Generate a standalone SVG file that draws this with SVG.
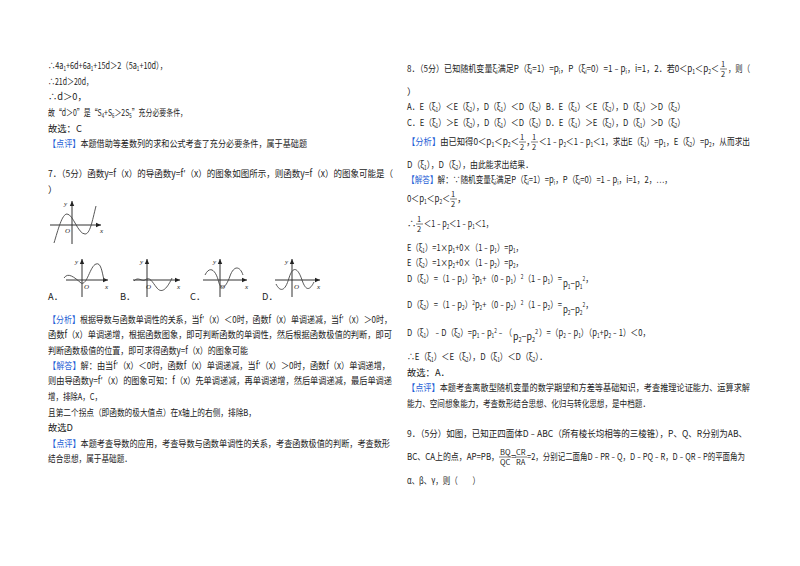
<svg xmlns="http://www.w3.org/2000/svg" width="800" height="566" viewBox="0 0 800 566">
<style>
text{font-family:"Noto Sans CJK SC","Noto Sans",sans-serif;font-size:9.3px;fill:#222}
.b{fill:#1f5fd6}
.s{font-size:5.8px}
.f{font-size:7.5px}
.fl{stroke:#222;stroke-width:0.6}
.ax{stroke:#333;stroke-width:1;fill:none}
.cv{stroke:#444;stroke-width:0.9;fill:none}
.lb{font-family:"Liberation Serif",serif;font-style:italic;font-size:7px}
</style>
<defs><marker id="ar" markerWidth="6" markerHeight="6" refX="5" refY="3" orient="auto"><path d="M0,0.8L5,3L0,5.2z" fill="#222"/></marker></defs>
<rect width="800" height="566" fill="#fff"/>
<g id="left">
<text x="48" y="69" textLength="119" lengthAdjust="spacingAndGlyphs">∴4a<tspan class="s" dy="1.5">1</tspan><tspan dy="-1.5">+6d+6a</tspan><tspan class="s" dy="1.5">1</tspan><tspan dy="-1.5">+15d＞2（5a</tspan><tspan class="s" dy="1.5">1</tspan><tspan dy="-1.5">+10d），</tspan></text>
<text x="48" y="85" textLength="45" lengthAdjust="spacingAndGlyphs">∴21d＞20d，</text>
<text x="48" y="100">∴d＞0，</text>
<text x="48" y="116" textLength="139" lengthAdjust="spacingAndGlyphs">故“d＞0”是“S<tspan class="s" dy="1.5">4</tspan><tspan dy="-1.5">+S</tspan><tspan class="s" dy="1.5">6</tspan><tspan dy="-1.5">＞2S</tspan><tspan class="s" dy="1.5">5</tspan><tspan dy="-1.5">”充分必要条件，</tspan></text>
<text x="48" y="132">故选：C</text>
<text x="48" y="147" textLength="259" lengthAdjust="spacingAndGlyphs"><tspan class="b">【点评】</tspan>本题借助等差数列的求和公式考查了充分必要条件，属于基础题</text>
<text x="48" y="177" textLength="345" lengthAdjust="spacingAndGlyphs">7．（5分）函数y=f（x）的导函数y=f′（x）的图象如图所示，则函数y=f（x）的图象可能是（</text>
<text x="48" y="193">）</text>
</g>
<g id="graphs">
<path class="ax" d="M50,225H101" marker-end="url(#ar)"/><path class="ax" d="M72,244V201" marker-end="url(#ar)"/>
<text class="lb" x="64" y="206">y</text><text class="lb" x="100" y="233">x</text><text class="lb" x="65" y="233">O</text>
<path class="cv" d="M54,243C58,230 62,214 67,214C73,214 78,234 85,234C90,234 92,222 96,206"/>
<g id="A"><path class="ax" d="M66,280H108" marker-end="url(#ar)"/><path class="ax" d="M82,297V259" marker-end="url(#ar)"/>
<text class="lb" x="75" y="264">y</text><text class="lb" x="105" y="289">x</text><text class="lb" x="84" y="289">O</text>
<path class="cv" d="M64,278C68,272 74,277 81,283C87,286 90,266 96,264C101,262 102,272 104,280"/>
<text x="48" y="300">A．</text></g>
<g id="B"><path class="ax" d="M133,280H180" marker-end="url(#ar)"/><path class="ax" d="M147,297V259" marker-end="url(#ar)"/>
<text class="lb" x="140" y="264">y</text><text class="lb" x="177" y="289">x</text><text class="lb" x="146" y="289">O</text>
<path class="cv" d="M134,281C138,276 142,282 145,280C150,276 152,282 157,288C161,293 166,291 172,278"/>
<text x="120" y="300">B．</text></g>
<g id="C"><path class="ax" d="M203,280H247" marker-end="url(#ar)"/><path class="ax" d="M220,297V259" marker-end="url(#ar)"/>
<text class="lb" x="213" y="264">y</text><text class="lb" x="245" y="289">x</text><text class="lb" x="220" y="289">O</text>
<path class="cv" d="M205,275C210,265 216,270 219,283C222,292 227,285 230,276C234,265 240,266 243,275"/>
<text x="190" y="300">C．</text></g>
<g id="D"><path class="ax" d="M275,280H320" marker-end="url(#ar)"/><path class="ax" d="M292,297V259" marker-end="url(#ar)"/>
<text class="lb" x="285" y="264">y</text><text class="lb" x="317" y="289">x</text><text class="lb" x="294" y="289">O</text>
<path class="cv" d="M276,284C280,292 285,292 289,278C293,265 298,268 302,280C306,292 310,290 314,282"/>
<text x="262" y="300">D．</text></g>
</g>
<g id="left2">
<text x="48" y="323" textLength="344" lengthAdjust="spacingAndGlyphs"><tspan class="b">【分析】</tspan>根据导数与函数单调性的关系，当f′（x）＜0时，函数f（x）单调递减，当f′（x）＞0时，</text>
<text x="48" y="338" textLength="344" lengthAdjust="spacingAndGlyphs">函数f（x）单调递增，根据函数图象，即可判断函数的单调性，然后根据函数极值的判断，即可</text>
<text x="48" y="354" textLength="200" lengthAdjust="spacingAndGlyphs">判断函数极值的位置，即可求得函数y=f（x）的图象可能</text>
<text x="48" y="369" textLength="342" lengthAdjust="spacingAndGlyphs"><tspan class="b">【解答】</tspan>解：由当f′（x）＜0时，函数f（x）单调递减，当f′（x）＞0时，函数f（x）单调递增，</text>
<text x="48" y="384" textLength="344" lengthAdjust="spacingAndGlyphs">则由导函数y=f′（x）的图象可知：f（x）先单调递减，再单调递增，然后单调递减，最后单调递</text>
<text x="48" y="400" textLength="54" lengthAdjust="spacingAndGlyphs">增，排除A，C，</text>
<text x="48" y="416" textLength="208" lengthAdjust="spacingAndGlyphs">且第二个拐点（即函数的极大值点）在x轴上的右侧，排除B，</text>
<text x="48" y="431">故选D</text>
<text x="48" y="447" textLength="342" lengthAdjust="spacingAndGlyphs"><tspan class="b">【点评】</tspan>本题考查导数的应用，考查导数与函数单调性的关系，考查函数极值的判断，考查数形</text>
<text x="48" y="462" textLength="84" lengthAdjust="spacingAndGlyphs">结合思想，属于基础题．</text>
</g>
<g id="right">
<text x="407" y="72" textLength="312" lengthAdjust="spacingAndGlyphs">8．（5分）已知随机变量ξ<tspan class="s" dy="1.5">i</tspan><tspan dy="-1.5">满足P（ξ</tspan><tspan class="s" dy="1.5">i</tspan><tspan dy="-1.5">=1）=p</tspan><tspan class="s" dy="1.5">i</tspan><tspan dy="-1.5">，P（ξ</tspan><tspan class="s" dy="1.5">i</tspan><tspan dy="-1.5">=0）=1﹣p</tspan><tspan class="s" dy="1.5">i</tspan><tspan dy="-1.5">，i=1，2．若0＜p</tspan><tspan class="s" dy="1.5">1</tspan><tspan dy="-1.5">＜p</tspan><tspan class="s" dy="1.5">2</tspan><tspan dy="-1.5">＜</tspan></text>
<text class="f" x="721" y="67">1</text><path class="fl" d="M720,69H727"/><text class="f" x="721" y="77">2</text>
<text x="728" y="72" textLength="22" lengthAdjust="spacingAndGlyphs">，则（</text>
<text x="407" y="95">）</text>
<text x="407" y="110" textLength="278" lengthAdjust="spacingAndGlyphs">A．E（ξ<tspan class="s" dy="1.5">1</tspan><tspan dy="-1.5">）＜E（ξ</tspan><tspan class="s" dy="1.5">2</tspan><tspan dy="-1.5">），D（ξ</tspan><tspan class="s" dy="1.5">1</tspan><tspan dy="-1.5">）＜D（ξ</tspan><tspan class="s" dy="1.5">2</tspan><tspan dy="-1.5">）B．E（ξ</tspan><tspan class="s" dy="1.5">1</tspan><tspan dy="-1.5">）＜E（ξ</tspan><tspan class="s" dy="1.5">2</tspan><tspan dy="-1.5">），D（ξ</tspan><tspan class="s" dy="1.5">1</tspan><tspan dy="-1.5">）＞D（ξ</tspan><tspan class="s" dy="1.5">2</tspan><tspan dy="-1.5">）</tspan></text>
<text x="407" y="126" textLength="278" lengthAdjust="spacingAndGlyphs">C．E（ξ<tspan class="s" dy="1.5">1</tspan><tspan dy="-1.5">）＞E（ξ</tspan><tspan class="s" dy="1.5">2</tspan><tspan dy="-1.5">），D（ξ</tspan><tspan class="s" dy="1.5">1</tspan><tspan dy="-1.5">）＜D（ξ</tspan><tspan class="s" dy="1.5">2</tspan><tspan dy="-1.5">）D．E（ξ</tspan><tspan class="s" dy="1.5">1</tspan><tspan dy="-1.5">）＞E（ξ</tspan><tspan class="s" dy="1.5">2</tspan><tspan dy="-1.5">），D（ξ</tspan><tspan class="s" dy="1.5">1</tspan><tspan dy="-1.5">）＞D（ξ</tspan><tspan class="s" dy="1.5">2</tspan><tspan dy="-1.5">）</tspan></text>
<text x="407" y="145" textLength="112" lengthAdjust="spacingAndGlyphs"><tspan class="b">【分析】</tspan>由已知得0＜p<tspan class="s" dy="1.5">1</tspan><tspan dy="-1.5">＜p</tspan><tspan class="s" dy="1.5">2</tspan><tspan dy="-1.5">＜</tspan></text>
<text class="f" x="520" y="140">1</text><path class="fl" d="M519,142H526"/><text class="f" x="520" y="150">2</text>
<text x="526" y="145">，</text>
<text class="f" x="532" y="140">1</text><path class="fl" d="M531,142H538"/><text class="f" x="532" y="150">2</text>
<text x="539" y="145" textLength="211" lengthAdjust="spacingAndGlyphs">＜1﹣p<tspan class="s" dy="1.5">2</tspan><tspan dy="-1.5">＜1﹣p</tspan><tspan class="s" dy="1.5">1</tspan><tspan dy="-1.5">＜1，求出E（ξ</tspan><tspan class="s" dy="1.5">1</tspan><tspan dy="-1.5">）=p</tspan><tspan class="s" dy="1.5">1</tspan><tspan dy="-1.5">，E（ξ</tspan><tspan class="s" dy="1.5">2</tspan><tspan dy="-1.5">）=p</tspan><tspan class="s" dy="1.5">2</tspan><tspan dy="-1.5">，从而求出</tspan></text>
<text x="407" y="168" textLength="126" lengthAdjust="spacingAndGlyphs">D（ξ<tspan class="s" dy="1.5">1</tspan><tspan dy="-1.5">），D（ξ</tspan><tspan class="s" dy="1.5">2</tspan><tspan dy="-1.5">），由此能求出结果．</tspan></text>
<text x="407" y="183" textLength="265" lengthAdjust="spacingAndGlyphs"><tspan class="b">【解答】</tspan>解：∵随机变量ξ<tspan class="s" dy="1.5">i</tspan><tspan dy="-1.5">满足P（ξ</tspan><tspan class="s" dy="1.5">i</tspan><tspan dy="-1.5">=1）=p</tspan><tspan class="s" dy="1.5">i</tspan><tspan dy="-1.5">，P（ξ</tspan><tspan class="s" dy="1.5">i</tspan><tspan dy="-1.5">=0）=1﹣p</tspan><tspan class="s" dy="1.5">i</tspan><tspan dy="-1.5">，i=1，2，…，</tspan></text>
<text x="407" y="202" textLength="43" lengthAdjust="spacingAndGlyphs">0＜p<tspan class="s" dy="1.5">1</tspan><tspan dy="-1.5">＜p</tspan><tspan class="s" dy="1.5">2</tspan><tspan dy="-1.5">＜</tspan></text>
<text class="f" x="451" y="197">1</text><path class="fl" d="M450,199H457"/><text class="f" x="451" y="207">2</text>
<text x="457" y="202">，</text>
<text x="407" y="227">∴</text>
<text class="f" x="417" y="222">1</text><path class="fl" d="M416,224H423"/><text class="f" x="417" y="232">2</text>
<text x="424" y="227" textLength="69" lengthAdjust="spacingAndGlyphs">＜1﹣p<tspan class="s" dy="1.5">2</tspan><tspan dy="-1.5">＜1﹣p</tspan><tspan class="s" dy="1.5">1</tspan><tspan dy="-1.5">＜1，</tspan></text>
<text x="407" y="251" textLength="116" lengthAdjust="spacingAndGlyphs">E（ξ<tspan class="s" dy="1.5">1</tspan><tspan dy="-1.5">）=1×p</tspan><tspan class="s" dy="1.5">1</tspan><tspan dy="-1.5">+0×（1﹣p</tspan><tspan class="s" dy="1.5">1</tspan><tspan dy="-1.5">）=p</tspan><tspan class="s" dy="1.5">1</tspan><tspan dy="-1.5">，</tspan></text>
<text x="407" y="266" textLength="116" lengthAdjust="spacingAndGlyphs">E（ξ<tspan class="s" dy="1.5">2</tspan><tspan dy="-1.5">）=1×p</tspan><tspan class="s" dy="1.5">2</tspan><tspan dy="-1.5">+0×（1﹣p</tspan><tspan class="s" dy="1.5">2</tspan><tspan dy="-1.5">）=p</tspan><tspan class="s" dy="1.5">2</tspan><tspan dy="-1.5">，</tspan></text>
<text x="407" y="282" textLength="155" lengthAdjust="spacingAndGlyphs">D（ξ<tspan class="s" dy="1.5">1</tspan><tspan dy="-1.5">）=（1﹣p</tspan><tspan class="s" dy="1.5">1</tspan><tspan dy="-1.5">）</tspan><tspan class="s" dy="-3">2</tspan><tspan dy="3">p</tspan><tspan class="s" dy="1.5">1</tspan><tspan dy="-1.5">+（0﹣p</tspan><tspan class="s" dy="1.5">1</tspan><tspan dy="-1.5">）</tspan><tspan class="s" dy="-3">2</tspan><tspan dy="3">（1﹣p</tspan><tspan class="s" dy="1.5">1</tspan><tspan dy="-1.5">）=</tspan></text>
<text x="563" y="287" fill="#555" textLength="30" lengthAdjust="spacingAndGlyphs">p<tspan class="s" dy="2">1</tspan><tspan dy="-2">−p</tspan><tspan class="s" dy="2">1</tspan><tspan class="s" dy="-8">2</tspan><tspan dy="1" fill="#222">，</tspan></text>
<text x="407" y="308" textLength="155" lengthAdjust="spacingAndGlyphs">D（ξ<tspan class="s" dy="1.5">2</tspan><tspan dy="-1.5">）=（1﹣p</tspan><tspan class="s" dy="1.5">2</tspan><tspan dy="-1.5">）</tspan><tspan class="s" dy="-3">2</tspan><tspan dy="3">p</tspan><tspan class="s" dy="1.5">2</tspan><tspan dy="-1.5">+（0﹣p</tspan><tspan class="s" dy="1.5">2</tspan><tspan dy="-1.5">）</tspan><tspan class="s" dy="-3">2</tspan><tspan dy="3">（1﹣p</tspan><tspan class="s" dy="1.5">2</tspan><tspan dy="-1.5">）=</tspan></text>
<text x="563" y="313" fill="#555" textLength="30" lengthAdjust="spacingAndGlyphs">p<tspan class="s" dy="2">2</tspan><tspan dy="-2">−p</tspan><tspan class="s" dy="2">2</tspan><tspan class="s" dy="-8">2</tspan><tspan dy="1" fill="#222">，</tspan></text>
<text x="407" y="336" textLength="105" lengthAdjust="spacingAndGlyphs">D（ξ<tspan class="s" dy="1.5">1</tspan><tspan dy="-1.5">）﹣D（ξ</tspan><tspan class="s" dy="1.5">2</tspan><tspan dy="-1.5">）=p</tspan><tspan class="s" dy="1.5">1</tspan><tspan dy="-1.5">﹣p</tspan><tspan class="s" dy="1.5">1</tspan><tspan class="s" dy="-4.5">2</tspan><tspan dy="3">﹣（</tspan></text>
<text x="513" y="340" fill="#555" textLength="25" lengthAdjust="spacingAndGlyphs">p<tspan class="s" dy="2">2</tspan><tspan dy="-2">−p</tspan><tspan class="s" dy="2">2</tspan><tspan class="s" dy="-8">2</tspan></text>
<text x="539" y="336" textLength="111" lengthAdjust="spacingAndGlyphs">）=（p<tspan class="s" dy="1.5">2</tspan><tspan dy="-1.5">﹣p</tspan><tspan class="s" dy="1.5">1</tspan><tspan dy="-1.5">）（p</tspan><tspan class="s" dy="1.5">1</tspan><tspan dy="-1.5">+p</tspan><tspan class="s" dy="1.5">2</tspan><tspan dy="-1.5">﹣1）＜0，</tspan></text>
<text x="407" y="360" textLength="140" lengthAdjust="spacingAndGlyphs">∴E（ξ<tspan class="s" dy="1.5">1</tspan><tspan dy="-1.5">）＜E（ξ</tspan><tspan class="s" dy="1.5">2</tspan><tspan dy="-1.5">），D（ξ</tspan><tspan class="s" dy="1.5">1</tspan><tspan dy="-1.5">）＜D（ξ</tspan><tspan class="s" dy="1.5">2</tspan><tspan dy="-1.5">）．</tspan></text>
<text x="407" y="376">故选：A．</text>
<text x="407" y="391" textLength="343" lengthAdjust="spacingAndGlyphs"><tspan class="b">【点评】</tspan>本题考查离散型随机变量的数学期望和方差等基础知识，考查推理论证能力、运算求解</text>
<text x="407" y="407" textLength="243" lengthAdjust="spacingAndGlyphs">能力、空间想象能力，考查数形结合思想、化归与转化思想，是中档题．</text>
<text x="407" y="437" textLength="340" lengthAdjust="spacingAndGlyphs">9．（5分）如图，已知正四面体D﹣ABC（所有棱长均相等的三棱锥），P、Q、R分别为AB、</text>
<text x="407" y="460" textLength="92" lengthAdjust="spacingAndGlyphs">BC、CA上的点，AP=PB，</text>
<text class="f" x="500" y="455">BQ</text><path class="fl" d="M499,457H511"/><text class="f" x="500" y="465">QC</text>
<text x="511" y="460" font-size="6">=</text>
<text class="f" x="516" y="455">CR</text><path class="fl" d="M515,457H527"/><text class="f" x="516" y="465">RA</text>
<text x="527" y="460" textLength="218" lengthAdjust="spacingAndGlyphs">=2，分别记二面角D﹣PR﹣Q，D﹣PQ﹣R，D﹣QR﹣P的平面角为</text>
<text x="407" y="484" textLength="73" lengthAdjust="spacingAndGlyphs">α、β、γ，则（　　）</text>
</g>
</svg>
